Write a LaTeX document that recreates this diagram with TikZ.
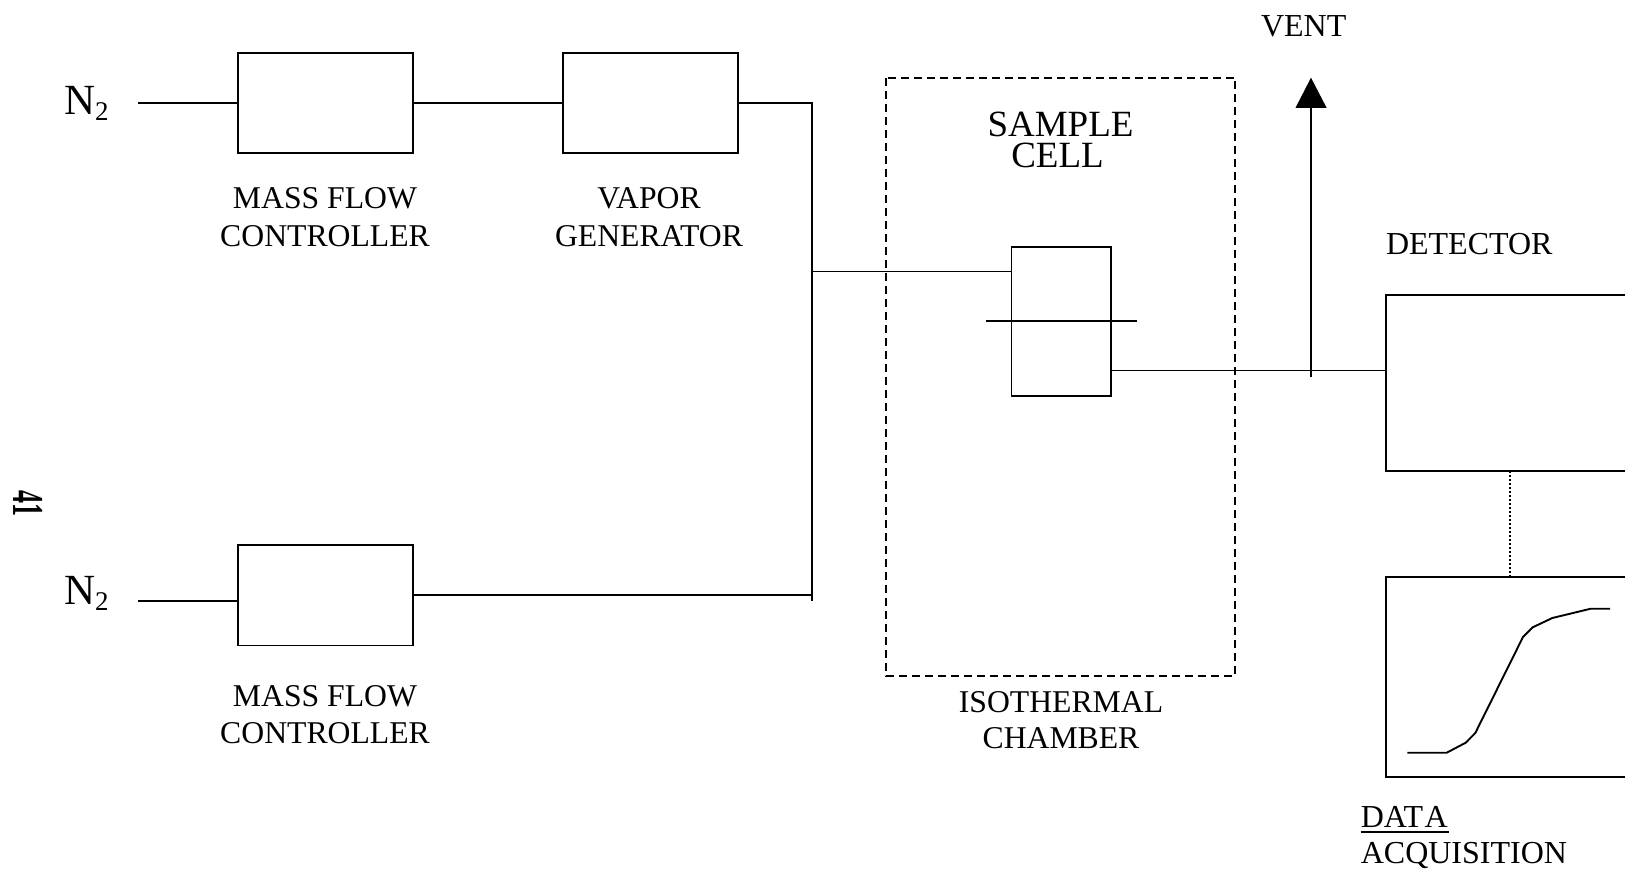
\documentclass[tikz,border=0pt]{standalone}
\usepackage{fontspec}
\setmainfont{Liberation Serif}
\usetikzlibrary{arrows.meta}
\newcommand{\gasname}{N\raisebox{-6pt}{\fontsize{27}{27}\selectfont 2}}
\tikzset{
  box/.style={draw=black,line width=1.9pt,rectangle,inner sep=0pt,outer sep=0pt,anchor=north west},
  wire/.style={draw=black,line width=1.9pt},
  lbl/.style={inner sep=0pt,outer sep=0pt,align=center,font=\fontsize{31.7}{38}\selectfont},
  biglbl/.style={inner sep=0pt,outer sep=0pt,align=center,font=\fontsize{37}{31}\selectfont},
  gas/.style={inner sep=0pt,outer sep=0pt,anchor=base west,font=\fontsize{43}{43}\selectfont},
  pt/.style={inner sep=0pt,outer sep=0pt,anchor=base west,font=\fontsize{32}{36}\selectfont}
}
\begin{document}
\begin{tikzpicture}[x=1pt,y=-1pt]
\useasboundingbox (0,0) rectangle (1625,871);
\clip (0,0) rectangle (1625,871);
% boxes
\node[box,minimum width=175pt,minimum height=100.5pt] (mfc1) at (238.4,52.9) {};
\node[box,minimum width=175pt,minimum height=100.5pt] (vap) at (562.8,52.9) {};
\node[box,minimum width=175pt,minimum height=100.5pt] (mfc2) at (238.4,545) {};
\node[box,draw=none,minimum width=349.4pt,minimum height=598pt] (iso) at (886,77.7) {};
\draw[line width=1.9pt,dash pattern=on 8pt off 5pt] (iso.north west) rectangle (iso.south east);
\node[box,minimum width=99.5pt,minimum height=149.3pt] (cell) at (1011.5,246.7) {};
\node[box,minimum width=280pt,minimum height=175.2pt] (det) at (1385.7,295.4) {};
\node[box,minimum width=280pt,minimum height=200pt] (daq) at (1385.7,576.7) {};
% free ends
\coordinate (n1) at (137.8,102.6);
\coordinate (n2) at (137.8,601);
\coordinate (jt) at (811.6,102.6);
\coordinate (jb) at (811.6,601);
\coordinate (jm) at (811.6,271.5);
\coordinate (jl) at (811.6,595.4);
\coordinate (cl) at (985.6,321.3);
\coordinate (cr) at (1137,321.3);
\coordinate (oc) at (1111,370.5);
\coordinate (od) at (1385.7,370.5);
\coordinate (vb) at (1311,377);
\coordinate (vt) at (1311,77.7);
\coordinate (vh) at (1311,107.8);
% connectors
\draw[wire] (n1) -- (n1 -| mfc1.west);
\draw[wire] (n2) -- (n2 -| mfc2.west);
\draw[wire] (n1 -| mfc1.east) -- (n1 -| vap.west);
\draw[wire] (n1 -| vap.east) -- (jt) -- (jb);
\draw[wire] (jl -| mfc2.east) -- (jl);
\draw[wire] (jm) -- (jm -| cell.west);
\draw[wire] (cl) -- (cr);
\draw[wire] (oc) -- (od);
\draw[wire] (vb) -- (vh);
\fill[black] (vt) -- (1326.6,107.8) -- (1295.5,107.8) -- cycle;
\draw[line width=1.5pt,dash pattern=on 2pt off 2pt] ([xshift=124.3pt]det.south west) -- ([xshift=124.3pt]daq.north west);
% trace
\draw[line width=1.9pt,line join=round] (1407.3,752.7) -- (1446.7,752.7) -- (1465.7,742.7) -- (1475.3,733) -- (1523,637) -- (1532.7,627.3) -- (1552.3,618) -- (1590.7,608.7) -- (1610,608.7);
% labels
\node[gas] (t1) at (64,114) {\gasname};
\node[gas] (t2) at (64,604) {\gasname};
\node[lbl] (l1) at (325,217) {MASS FLOW\\CONTROLLER};
\node[lbl] (l2) at (649,217) {VAPOR\\GENERATOR};
\node[lbl] (l3) at (325,714.5) {MASS FLOW\\[-1pt]CONTROLLER};
\node[lbl] (l4) at (1061,720) {ISOTHERMAL\\[-1.5pt]CHAMBER};
\node[biglbl] (l5) at (1060.5,139.5) {SAMPLE\\\mbox{CELL\hspace{6pt}}};
\node[pt] (l6) at (1261,36) {VENT};
\node[pt] (l7) at (1386,254) {DETECTOR};
\node[inner sep=0pt,outer sep=0pt,anchor=base west,align=left,font=\fontsize{32}{36}\selectfont] (l8) at (1360.8,863) {DAT\kern1.5pt A\\ACQUISITION};
\draw[line width=1.9pt] (1360.5,831.7) -- (1449,831.7);
\node[inner sep=0pt,rotate=-90,font=\fontsize{26}{26}\selectfont\bfseries] (pg) at (28,503) {\scalebox{1}[1.7]{41}};
\end{tikzpicture}
\end{document}
